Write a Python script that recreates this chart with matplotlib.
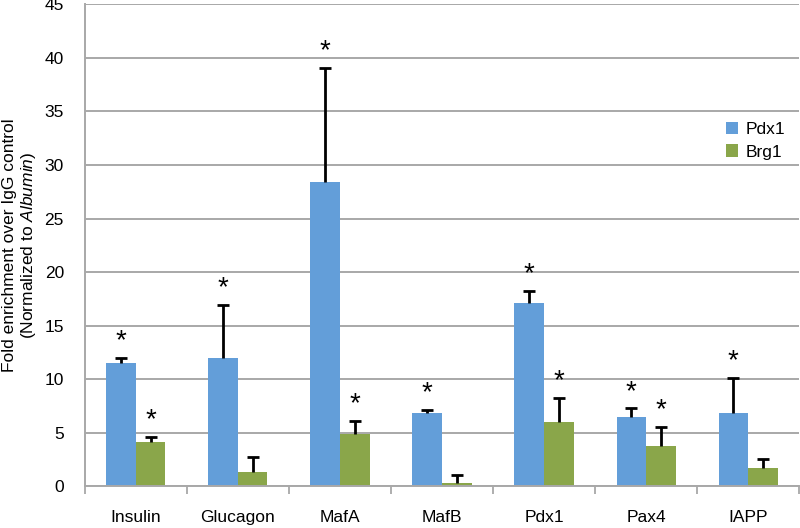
import matplotlib
matplotlib.use("Agg")
import matplotlib.pyplot as plt
import numpy as np

plt.rcParams['font.family'] = ['Liberation Sans', 'DejaVu Sans']
plt.rcParams['mathtext.fontset'] = 'custom'
plt.rcParams['mathtext.rm'] = 'Liberation Sans'
plt.rcParams['mathtext.it'] = 'Liberation Sans:italic'

# data
genes = ['Insulin', 'Glucagon', 'MafA', 'MafB', 'Pdx1', 'Pax4', 'IAPP']
pdx1 = [11.45, 12.0, 28.4, 6.85, 17.1, 6.45, 6.85]
pdx1_err = [0.55, 4.9, 10.7, 0.25, 1.1, 0.8, 3.25]
brg1 = [4.15, 1.3, 4.85, 0.3, 6.0, 3.7, 1.7]
brg1_err = [0.4, 1.4, 1.25, 0.7, 2.25, 1.8, 0.85]
pdx1_star = [True, True, True, True, True, True, True]
brg1_star = [True, False, True, False, True, True, False]

blue = '#639ED9'
green = '#8AA64A'
grid_col = '#A8A8A8'

fig = plt.figure(figsize=(8, 5.28), dpi=100)
ax = fig.add_axes([0.106, 0.0795, 0.893, 0.912])

x = np.arange(len(genes))
w = 0.29


def upper_err(xs, vals, errs, stars):
    # only the upper half of the error bar, with a cap and an optional star
    tops = np.array(vals) + np.array(errs)
    ax.vlines(xs, vals, tops, color='black', linewidth=2, zorder=3)
    ax.plot(xs, tops, linestyle='none', marker='_', markersize=9,
            markeredgewidth=2, color='black', zorder=3)
    for xi, t, s in zip(xs, tops, stars):
        if s:
            ax.annotate('*', (xi, t), xytext=(0, 12), textcoords='offset points',
                        ha='center', va='center', fontsize=20)


ax.bar(x - w / 2, pdx1, w, color=blue, label='Pdx1', zorder=2)
ax.bar(x + w / 2, brg1, w, color=green, label='Brg1', zorder=2)
upper_err(x - w / 2, pdx1, pdx1_err, pdx1_star)
upper_err(x + w / 2, brg1, brg1_err, brg1_star)

ax.set_xlim(-0.5, len(genes) - 0.5)
ax.set_ylim(0, 45)
ax.set_yticks(np.arange(0, 46, 5))
ax.yaxis.grid(True, color=grid_col, linewidth=1.4, zorder=0)
ax.set_axisbelow(True)

ax.set_xticks(x)
ax.set_xticklabels(genes)
ax.set_xticks(np.arange(-0.5, len(genes)), minor=True)
ax.tick_params(axis='x', which='major', length=0, pad=17, labelsize=12.5)
ax.tick_params(axis='x', which='minor', length=6, width=1.3, color=grid_col)
ax.tick_params(axis='y', length=0, pad=15, labelsize=12.5)

for s in ['top', 'right']:
    ax.spines[s].set_visible(False)
for s in ['left', 'bottom']:
    ax.spines[s].set_color(grid_col)
    ax.spines[s].set_linewidth(1.4)

ax.set_ylabel('Fold enrichment over IgG control\n(Normalized to $\\mathit{Albumin}$)',
              fontsize=12.5, linespacing=1.15)
ax.yaxis.set_label_coords(-0.066, 0.5)

ax.legend(loc='upper left', bbox_to_anchor=(0.885, 0.775), frameon=False,
          fontsize=12.5, handlelength=0.7, handleheight=0.7, handletextpad=0.45,
          labelspacing=0.45, borderpad=0)

fig.savefig('out.png', dpi=100)
